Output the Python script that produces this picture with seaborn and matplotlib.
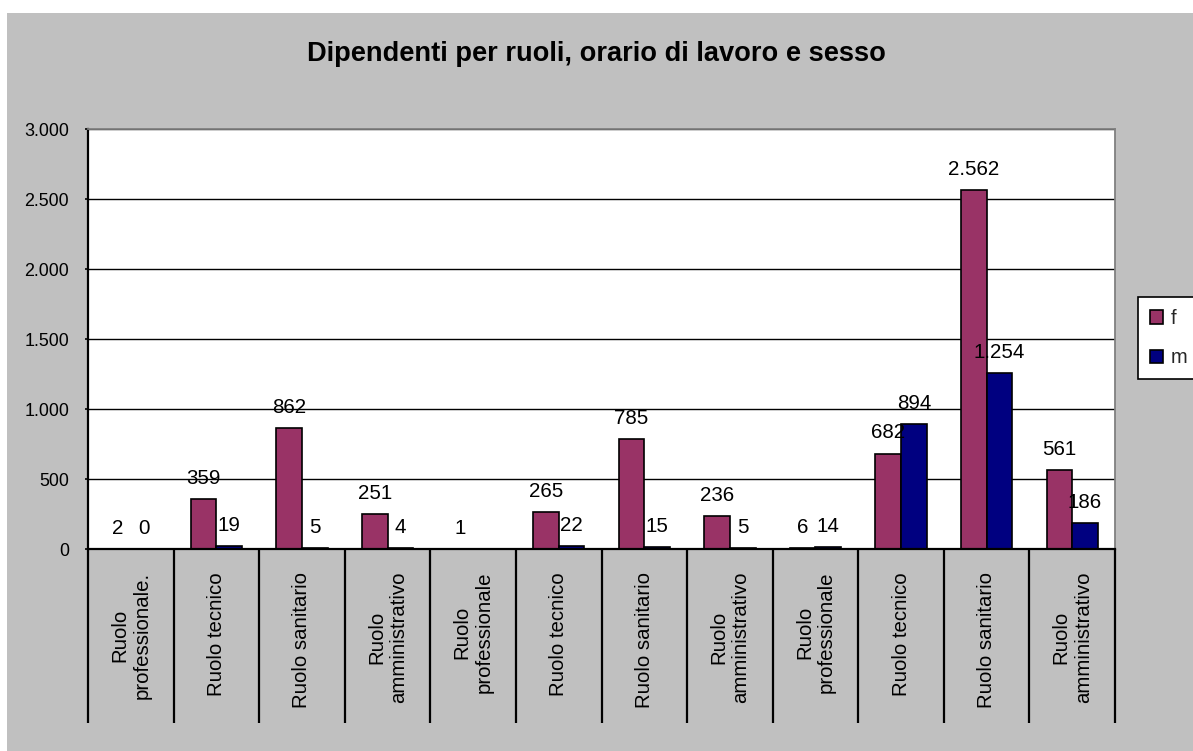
import numpy as np
import pandas as pd
import matplotlib
matplotlib.use("Agg")
import matplotlib.pyplot as plt
from matplotlib.patches import Rectangle
from matplotlib.ticker import FuncFormatter
import seaborn as sns

# Staff by role, working hours and sex
categories = [
    "Ruolo\nprofessionale.", "Ruolo tecnico", "Ruolo sanitario", "Ruolo\namministrativo",
    "Ruolo\nprofessionale", "Ruolo tecnico", "Ruolo sanitario", "Ruolo\namministrativo",
    "Ruolo\nprofessionale", "Ruolo tecnico", "Ruolo sanitario", "Ruolo\namministrativo",
]
f_values = [2, 359, 862, 251, 1, 265, 785, 236, 6, 682, 2562, 561]
m_values = [0, 19, 5, 4, np.nan, 22, 15, 5, 14, 894, 1254, 186]
series_names = ["f", "m"]
y_ticks = [0, 500, 1000, 1500, 2000, 2500, 3000]
title = "Dipendenti per ruoli, orario di lavoro e sesso"

palette = {"f": "#993366", "m": "#000080"}


def it_number(v, pos=None):
    if v is None or (isinstance(v, float) and np.isnan(v)):
        return ""
    return f"{v:,.0f}".replace(",", ".")


positions = list(range(len(categories)))
df = pd.DataFrame({
    "pos": positions * 2,
    "sesso": ["f"] * len(categories) + ["m"] * len(categories),
    "valore": f_values + m_values,
})

sns.set_style("white")
plt.rcParams["font.family"] = ["Liberation Sans", "DejaVu Sans"]

W, H = 1193, 751
fig = plt.figure(figsize=(W / 100, H / 100), dpi=100)
fig.patch.set_facecolor("white")
fig.patches.append(Rectangle((7 / W, 0), 1, 1 - 13 / H, transform=fig.transFigure,
                             facecolor="#C0C0C0", edgecolor="none", zorder=-10))

ax = fig.add_axes([88 / W, 1 - 549 / H, (1115 - 88) / W, (549 - 129) / H])
ax.set_facecolor("white")

sns.barplot(data=df, x="pos", y="valore", hue="sesso", hue_order=series_names,
            order=positions, palette=palette, width=0.6, gap=0, saturation=1,
            edgecolor="black", linewidth=1.2, errorbar=None, ax=ax)

for cont in ax.containers:
    ax.bar_label(cont, fmt=it_number, padding=8, fontsize=14.8, color="black")

ax.set_ylim(0, 3000)
ax.set_yticks(y_ticks)
ax.yaxis.set_major_formatter(FuncFormatter(it_number))
ax.tick_params(axis="y", which="major", length=2.5, width=1.2, pad=11,
               labelsize=12.9, colors="black", left=True, direction="out")
ax.yaxis.grid(True, color="black", linewidth=1.0)
ax.set_axisbelow(True)

ax.set_xlim(-0.5, len(categories) - 0.5)
ax.set_xticks(positions)
ax.set_xticklabels(categories, rotation=90, ha="center", va="top",
                   multialignment="center", fontsize=14.7)
ax.tick_params(axis="x", which="major", length=0, pad=16.5, colors="black")
ax.set_xticks(np.arange(-0.5, len(categories), 1), minor=True)
ax.tick_params(axis="x", which="minor", length=125, width=1.6, color="black",
               direction="out", bottom=True)
ax.set_xlabel("")
ax.set_ylabel("")

for side in ("left", "bottom"):
    ax.spines[side].set_color("black")
    ax.spines[side].set_linewidth(1.6)
for side in ("top", "right"):
    ax.spines[side].set_color("#808080")
    ax.spines[side].set_linewidth(1.3)

sns.move_legend(ax, loc="upper left", bbox_to_anchor=(1138 / W, 1 - 297 / H),
                bbox_transform=fig.transFigure, title=None, frameon=True,
                fancybox=False, shadow=False, framealpha=1, edgecolor="black",
                fontsize=14.5, handlelength=0.62, handleheight=0.62,
                handletextpad=0.4, labelspacing=1.0, borderpad=0.6,
                borderaxespad=0)
leg = ax.get_legend()
leg.get_frame().set_linewidth(1.2)

fig.text(0.5, 1 - 61 / H, title, ha="center", va="baseline",
         fontsize=19.6, fontweight="bold", color="black")

fig.savefig("out.png", dpi=100, facecolor=fig.get_facecolor())
